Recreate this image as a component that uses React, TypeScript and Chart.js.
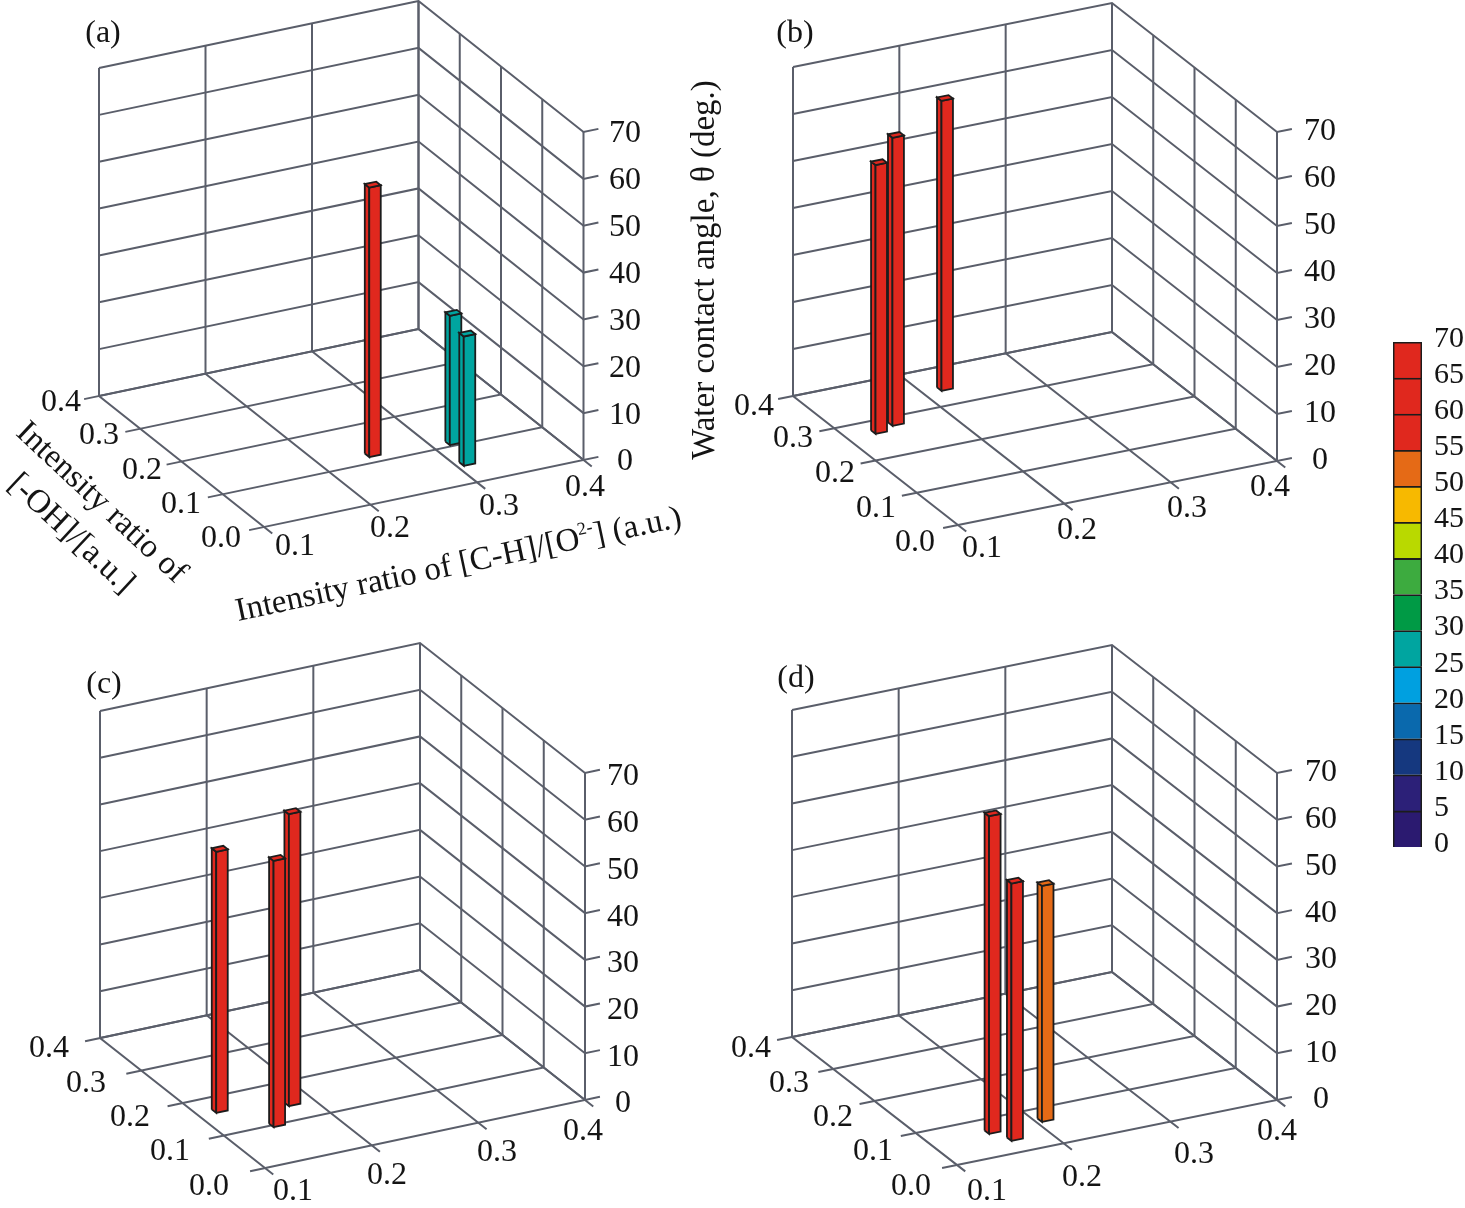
import { useEffect, useRef } from 'react';
import { Chart, registerables } from 'chart.js';

Chart.register(...registerables);

// axis ticks of the four 3D panels
const xTicks = [0.1, 0.2, 0.3, 0.4];
const yTicks = [0.0, 0.1, 0.2, 0.3, 0.4];
const zTicks = [0, 10, 20, 30, 40, 50, 60, 70];

// bars: [C-H]/[O2-] ratio, [-OH] ratio, contact angle
const barsAX = [0.249, 0.32, 0.311];
const barsAY = [0.121, 0.109, 0.052];
const barsAZ = [57.5, 27.6, 27.6];

const barsBX = [0.1309, 0.1512, 0.2214];
const barsBY = [0.2711, 0.2824, 0.3445];
const barsBZ = [57.2, 61.3, 61.7];

const barsCX = [0.121, 0.15, 0.181];
const barsCY = [0.164, 0.1, 0.143];
const barsCZ = [55.9, 57, 62.5];

const barsDX = [0.159, 0.1689, 0.2098];
const barsDY = [0.0663, 0.0377, 0.0694];
const barsDZ = [68, 55.1, 50.5];

// colour bar, one colour per 5 degree bin from 0 up
const binColors = [
  '#2b1a70', '#2c2078', '#15387f', '#0a69ad', '#00a0e0', '#00a5a0', '#009a45',
  '#3dab3f', '#b9d900', '#f7b900', '#e56a16', '#e0281e', '#e0281e', '#e0281e',
];
const binValues = binColors.map(() => 5);
const binTicks = [0, 5, 10, 15, 20, 25, 30, 35, 40, 45, 50, 55, 60, 65, 70];

const FONT = '"Liberation Serif", "Times New Roman", serif';
const GRID = '#5a5e6a';
const OUTLINE = '#1c1c1c';
const TEXT = '#141414';
const BAR_HALF = 0.0054;
const TICK_X = 0.014;
const TICK_Y = 0.02;

interface Layout {
  left: number;
  top: number;
  width: number;
  height: number;
  front: [number, number]; // page position of x=0.1, y=0, z=0
  xVec: [number, number]; // x 0.1 -> 0.4
  yVec: [number, number]; // y 0 -> 0.4
  zLen: number;
  zLabelX: number;
  zLabelDy: number;
  xLabels: [number, number][];
  yLabels: [number, number][];
  name: string;
  namePos: [number, number];
}

const layoutA: Layout = {
  left: 0, top: 0, width: 690, height: 630,
  front: [264, 527], xVec: [319.5, -67], yVec: [-165, -131], zLen: 328,
  zLabelX: 625, zLabelDy: 0,
  xLabels: [[295, 545], [390, 527], [499, 505], [585, 486]],
  yLabels: [[221, 537], [181, 503], [142, 469], [99, 434], [61, 401]],
  name: '(a)', namePos: [103, 33],
};
const layoutB: Layout = {
  left: 690, top: 0, width: 670, height: 630,
  front: [958, 525], xVec: [319, -64], yVec: [-165, -129], zLen: 329,
  zLabelX: 1320, zLabelDy: -2,
  xLabels: [[982, 547], [1077, 529], [1187, 507], [1270, 486]],
  yLabels: [[915, 541], [876, 507], [835, 472], [793, 437], [754, 405]],
  name: '(b)', namePos: [795, 33],
};
const layoutC: Layout = {
  left: 0, top: 630, width: 690, height: 578,
  front: [265, 1168], xVec: [320, -68], yVec: [-165, -130], zLen: 327,
  zLabelX: 623, zLabelDy: 2,
  xLabels: [[293, 1190], [387, 1174], [497, 1151], [583, 1130]],
  yLabels: [[209, 1185], [170, 1150], [130, 1116], [86, 1082], [49, 1047]],
  name: '(c)', namePos: [104, 684],
};
const layoutD: Layout = {
  left: 690, top: 630, width: 670, height: 578,
  front: [957, 1165], xVec: [320, -65], yVec: [-165, -128], zLen: 327,
  zLabelX: 1321, zLabelDy: -2,
  xLabels: [[987, 1190], [1082, 1176], [1194, 1153], [1277, 1130]],
  yLabels: [[911, 1185], [873, 1150], [833, 1116], [789, 1082], [751, 1047]],
  name: '(d)', namePos: [796, 678],
};

function makeProject(l: Layout) {
  return (x: number, y: number, z: number) => {
    const u = (x - 0.1) / 0.3;
    const v = y / 0.4;
    return {
      x: l.front[0] + u * l.xVec[0] + v * l.yVec[0] - l.left,
      y: l.front[1] + u * l.xVec[1] + v * l.yVec[1] - (z / 70) * l.zLen - l.top,
    };
  };
}

function gridLine(data: { x: number; y: number }[]) {
  return {
    data,
    showLine: true,
    borderColor: GRID,
    borderWidth: 2,
    pointRadius: 0,
    fill: false,
    tension: 0,
  };
}

function face(data: { x: number; y: number }[], color: string) {
  return {
    data: [...data, data[0]],
    showLine: true,
    borderColor: OUTLINE,
    borderWidth: 1.8,
    backgroundColor: color,
    pointRadius: 0,
    fill: 'shape',
    tension: 0,
  };
}

interface PanelProps {
  layout: Layout;
  xs: number[];
  ys: number[];
  zs: number[];
  extraText?: (ctx: CanvasRenderingContext2D) => void;
}

function Panel3D({ layout, xs, ys, zs, extraText }: PanelProps) {
  const canvasRef = useRef<HTMLCanvasElement | null>(null);

  useEffect(() => {
    if (!canvasRef.current) return;
    const p = makeProject(layout);
    const xMin = xTicks[0];
    const xMax = xTicks[xTicks.length - 1];
    const yMin = yTicks[0];
    const yMax = yTicks[yTicks.length - 1];
    const zMax = zTicks[zTicks.length - 1];

    const datasets: any[] = [];

    // walls and floor
    zTicks.forEach(z => {
      datasets.push(gridLine([p(xMin, yMax, z), p(xMax, yMax, z), p(xMax, yMin, z), p(xMax + TICK_X, yMin, z)]));
    });
    xTicks.forEach(x => {
      datasets.push(gridLine([p(x, yMax, zMax), p(x, yMax, 0), p(x, yMin - TICK_Y, 0)]));
    });
    yTicks.forEach(y => {
      datasets.push(gridLine([p(xMax, y, zMax), p(xMax, y, 0), p(xMin - TICK_X, y, 0)]));
    });

    // bars back to front
    const order = xs.map((_, i) => i).sort((a, b) => p(xs[a], ys[a], 0).y - p(xs[b], ys[b], 0).y);
    order.forEach(i => {
      const x = xs[i];
      const y = ys[i];
      const z = zs[i];
      const h = BAR_HALF;
      const color = binColors[Math.min(binColors.length - 1, Math.floor(z / 5))];
      datasets.push(face([p(x - h, y + h, 0), p(x - h, y - h, 0), p(x - h, y - h, z), p(x - h, y + h, z)], color));
      datasets.push(face([p(x - h, y - h, 0), p(x + h, y - h, 0), p(x + h, y - h, z), p(x - h, y - h, z)], color));
      datasets.push(face([p(x - h, y - h, z), p(x + h, y - h, z), p(x + h, y + h, z), p(x - h, y + h, z)], color));
    });

    // chart.js paints the first dataset last
    datasets.reverse();

    const labelPlugin = {
      id: 'panelLabels',
      afterDatasetsDraw(chart: Chart) {
        const ctx = chart.ctx;
        ctx.save();
        ctx.translate(-layout.left, -layout.top);
        ctx.fillStyle = TEXT;
        ctx.font = `32px ${FONT}`;
        ctx.textAlign = 'center';
        ctx.textBaseline = 'middle';
        zTicks.forEach(z => {
          const y = p(xMax, yMin, z).y + layout.top + layout.zLabelDy;
          ctx.fillText(String(z), layout.zLabelX, y + 2);
        });
        xTicks.forEach((x, i) => {
          ctx.fillText(x.toFixed(1), layout.xLabels[i][0], layout.xLabels[i][1] + 2);
        });
        yTicks.forEach((y, i) => {
          ctx.fillText(y.toFixed(1), layout.yLabels[i][0], layout.yLabels[i][1] + 2);
        });
        ctx.fillText(layout.name, layout.namePos[0], layout.namePos[1] + 1);
        if (extraText) extraText(ctx);
        ctx.restore();
      },
    };

    const chart = new Chart(canvasRef.current, {
      type: 'scatter',
      data: { datasets },
      options: {
        animation: false,
        responsive: false,
        events: [],
        layout: { padding: 0 },
        plugins: { legend: { display: false }, tooltip: { enabled: false } },
        scales: {
          x: { type: 'linear', display: false, min: 0, max: layout.width },
          y: { type: 'linear', display: false, min: 0, max: layout.height, reverse: true },
        },
      },
      plugins: [labelPlugin],
    });
    return () => chart.destroy();
  }, [layout, xs, ys, zs, extraText]);

  return (
    <canvas
      ref={canvasRef}
      width={layout.width}
      height={layout.height}
      style={{ position: 'absolute', left: layout.left, top: layout.top, width: layout.width, height: layout.height }}
    />
  );
}

function titlesA(ctx: CanvasRenderingContext2D) {
  ctx.font = `33px ${FONT}`;
  ctx.save();
  ctx.translate(101, 503);
  ctx.rotate((43 * Math.PI) / 180);
  ctx.fillText('Intensity ratio of', 0, 0);
  ctx.restore();

  ctx.save();
  ctx.translate(71, 534);
  ctx.rotate((43 * Math.PI) / 180);
  ctx.fillText('[-OH]/[a.u.]', 0, 0);
  ctx.restore();

  // x axis title with a superscript
  ctx.save();
  ctx.translate(238, 621);
  ctx.rotate((-12 * Math.PI) / 180);
  ctx.textAlign = 'left';
  ctx.textBaseline = 'alphabetic';
  const first = 'Intensity ratio of [C-H]/[O';
  ctx.fillText(first, 0, 0);
  let pos = ctx.measureText(first).width;
  ctx.font = `18px ${FONT}`;
  ctx.fillText('2-', pos, -13);
  pos += ctx.measureText('2-').width;
  ctx.font = `33px ${FONT}`;
  ctx.fillText('] (a.u.)', pos, 0);
  ctx.restore();
}

function titlesB(ctx: CanvasRenderingContext2D) {
  ctx.save();
  ctx.translate(705, 270);
  ctx.rotate(-Math.PI / 2);
  ctx.font = `33px ${FONT}`;
  ctx.fillText('Water contact angle, θ (deg.)', 0, 0);
  ctx.restore();
}

function ColorBar() {
  const canvasRef = useRef<HTMLCanvasElement | null>(null);

  useEffect(() => {
    if (!canvasRef.current) return;
    const chart = new Chart(canvasRef.current, {
      type: 'bar',
      data: {
        labels: [''],
        datasets: binColors.map((color, i) => ({
          data: [binValues[i]],
          backgroundColor: color,
          borderColor: OUTLINE,
          borderWidth: 1.8,
          barPercentage: 1,
          categoryPercentage: 1,
          stack: 'bins',
        })),
      },
      options: {
        animation: false,
        responsive: false,
        events: [],
        layout: { padding: { top: 0, bottom: 0, left: 3, right: 0 } },
        plugins: { legend: { display: false }, tooltip: { enabled: false } },
        scales: {
          x: { display: false, stacked: true },
          y: {
            position: 'right',
            stacked: true,
            min: 0,
            max: 70,
            afterBuildTicks: (axis: any) => {
              axis.ticks = binTicks.map(value => ({ value }));
            },
            afterFit: (axis: any) => {
              axis.width = 43;
            },
            border: { display: false },
            grid: { display: false },
            ticks: {
              color: TEXT,
              padding: 4,
              labelOffset: -3,
              autoSkip: false,
              font: { family: 'Liberation Serif', size: 30 },
            },
          },
        },
      },
    });
    return () => chart.destroy();
  }, []);

  return (
    <canvas
      ref={canvasRef}
      width={75}
      height={549}
      style={{ position: 'absolute', left: 1390, top: 320, width: 75, height: 549 }}
    />
  );
}

export default function App() {
  return (
    <div style={{ position: 'absolute', left: 0, top: 0, width: 1465, height: 1208, background: '#fff', overflow: 'hidden' }}>
      <Panel3D layout={layoutA} xs={barsAX} ys={barsAY} zs={barsAZ} extraText={titlesA} />
      <Panel3D layout={layoutB} xs={barsBX} ys={barsBY} zs={barsBZ} extraText={titlesB} />
      <Panel3D layout={layoutC} xs={barsCX} ys={barsCY} zs={barsCZ} />
      <Panel3D layout={layoutD} xs={barsDX} ys={barsDY} zs={barsDZ} />
      <ColorBar />
    </div>
  );
}
